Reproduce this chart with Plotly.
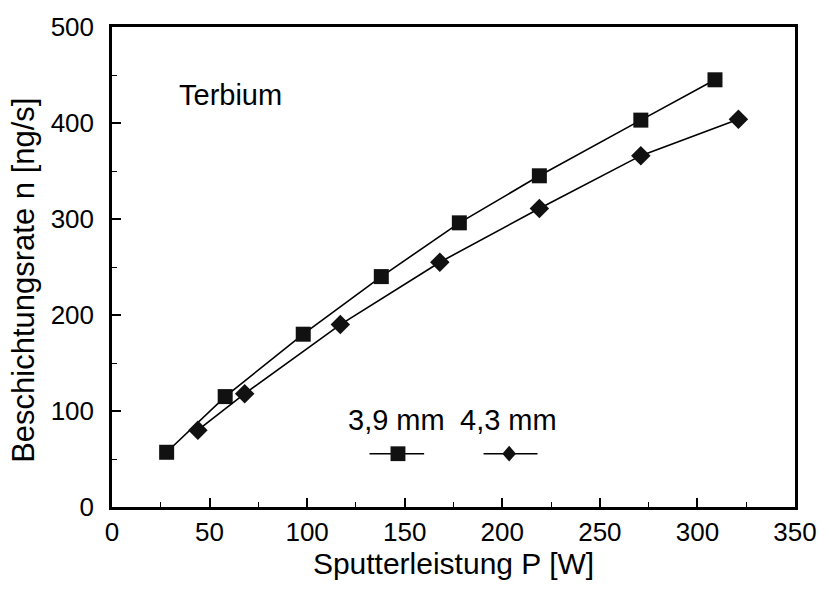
import plotly.graph_objects as go

# Sputter power P [W] and deposition rate n [ng/s] for two target distances
p_39 = [28, 58, 98, 138, 178, 219, 271, 309]
n_39 = [57, 115, 180, 240, 296, 345, 403, 445]
p_43 = [44, 68, 117, 168, 219, 271, 321]
n_43 = [80, 118, 190, 255, 311, 366, 404]
series_names = ["3,9 mm", "4,3 mm"]

FONT = "Liberation Sans, Arial, sans-serif"

fig = go.Figure()
fig.add_trace(go.Scatter(
    x=p_39, y=n_39, mode="lines+markers", name=series_names[0],
    line=dict(color="black", width=1.6),
    marker=dict(symbol="square", size=15, color="#111111"),
    showlegend=False,
))
fig.add_trace(go.Scatter(
    x=p_43, y=n_43, mode="lines+markers", name=series_names[1],
    line=dict(color="black", width=1.6),
    marker=dict(symbol="diamond", size=15, color="#111111"),
    showlegend=False,
))

axis_common = dict(
    showline=True, linecolor="black", linewidth=2.5, mirror=True,
    showgrid=False, zeroline=False,
    ticks="inside", ticklen=9, tickwidth=1.5, tickcolor="black",
    tickfont=dict(family=FONT, size=26, color="black"),
)

fig.update_xaxes(
    range=[0, 350], dtick=50, tick0=0,
    minor=dict(ticks="inside", ticklen=5, dtick=25, tickcolor="black", tickwidth=1.2),
    title_text="Sputterleistung P [W]", title_standoff=4,
    title_font=dict(family=FONT, size=30, color="black"),
    ticklabelstandoff=0,
    **axis_common,
)
fig.update_yaxes(
    range=[0, 500], dtick=100, tick0=0,
    minor=dict(ticks="inside", ticklen=5, dtick=50, tickcolor="black", tickwidth=1.2),
    ticklabelstandoff=10,
    **axis_common,
)

# Y axis title, placed slightly below the axis centre
fig.add_annotation(x=-0.129, y=0.473, xref="paper", yref="paper",
                   text="Beschichtungsrate n [ng/s]", textangle=-90,
                   showarrow=False, xanchor="center", yanchor="middle",
                   font=dict(family=FONT, size=31, color="black"))

# Legend: labels above line samples with markers
legend_font = dict(family=FONT, size=29, color="black")
fig.add_annotation(x=0.4165, y=0.182, xref="paper", yref="paper", text=series_names[0],
                   showarrow=False, xanchor="center", yanchor="middle", font=legend_font)
fig.add_annotation(x=0.58, y=0.182, xref="paper", yref="paper", text=series_names[1],
                   showarrow=False, xanchor="center", yanchor="middle", font=legend_font)
legend_y = 0.111
fig.add_shape(type="line", xref="paper", yref="paper", x0=0.377, x1=0.457,
              y0=legend_y, y1=legend_y, line=dict(color="black", width=1.5))
fig.add_shape(type="line", xref="paper", yref="paper", x0=0.544, x1=0.623,
              y0=legend_y, y1=legend_y, line=dict(color="black", width=1.5))
fig.add_shape(type="rect", xref="paper", yref="paper",
              x0=0.4078, x1=0.4296, y0=legend_y - 0.0154, y1=legend_y + 0.0154,
              fillcolor="#111111", line=dict(width=0))
fig.add_shape(type="path", xref="paper", yref="paper",
              path=f"M 0.5715 {legend_y} L 0.5815 {legend_y + 0.0164} L 0.5915 {legend_y} "
                   f"L 0.5815 {legend_y - 0.0164} Z",
              fillcolor="#111111", line=dict(width=0))

fig.add_annotation(x=0.0958, y=0.859, xref="paper", yref="paper", text="Terbium",
                   showarrow=False, xanchor="left", yanchor="middle",
                   font=dict(family=FONT, size=29, color="black"))

fig.update_layout(
    width=829, height=592,
    margin=dict(l=112, r=28, t=19, b=85),
    plot_bgcolor="white", paper_bgcolor="white",
)

fig.write_html("out.html")
